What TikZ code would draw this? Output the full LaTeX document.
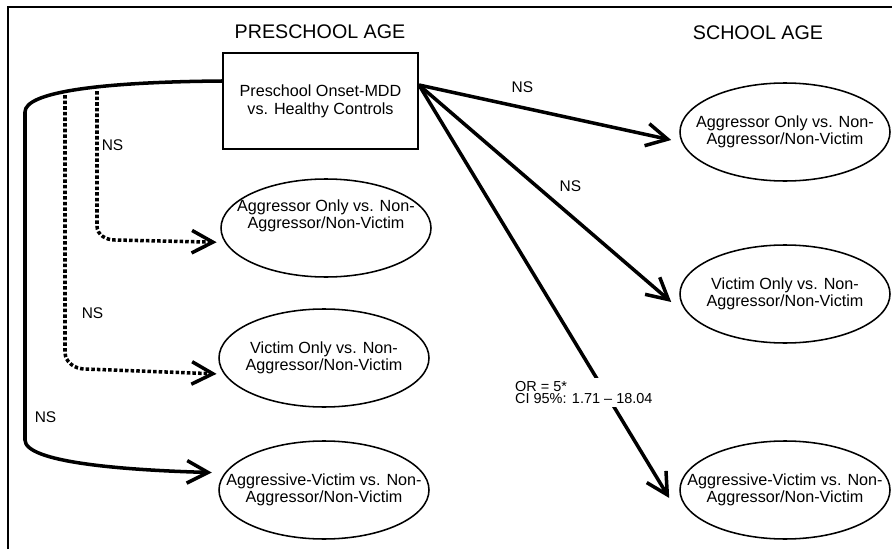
\documentclass[tikz,border=0pt]{standalone}
\usepackage{fontspec}
\setmainfont{Liberation Sans}
\usetikzlibrary{arrows.meta, positioning, shapes.geometric}

\begin{document}
\begin{tikzpicture}
		\tikzstyle{Onset} = [rectangle, minimum width=4.875cm, minimum height=2.4cm, align=center, draw=black, line width=1.4pt, font=\fontsize{11.5}{13}\selectfont]
		\tikzstyle{GroupText} = [align=center, font=\fontsize{11.5}{12}\selectfont]
		\tikzstyle{Group} = [ellipse, GroupText, minimum width=5.25cm, minimum height=2.45cm, inner xsep=-0.6cm, inner ysep=0pt, draw=black, line width=1.1pt]
		\tikzstyle{Age} = [font=\fontsize{14}{16}\selectfont]
		\tikzstyle{ns} = [font=\fontsize{11}{12}\selectfont, inner sep=1pt]
		\tikzstyle{OR} = [fill=white, align=left, inner sep=2pt, font=\fontsize{10.3}{9}\selectfont]
		\tikzstyle{arrow} = [line width=2.5pt, -{Straight Barb[length=15pt,width=16pt]}]
		\tikzstyle{nsarrow} = [arrow, dash pattern=on 2.5pt off 1.5pt]
		
		\useasboundingbox (0,0) rectangle (22.3,13.725);
		\draw [line width=2pt] (0.2,0) -- (0.2,13.55) -- (22.3,13.55);
		
		\node (pre) [Age] at (8.0,12.925) {PRESCHOOL AGE};
		\node (sch) [Age] at (18.95,12.9) {SCHOOL AGE};
		
		\node (mdd) [Onset] at (8.0125,11.2) {Preschool Onset-MDD\\vs. Healthy Controls};
		
		\node (p1) [Group, label={[GroupText, yshift=0.3cm]center:{Aggressor Only vs. Non-\\Aggressor/Non-Victim}}] at (8.15,8.025) {};
		\node (p2) [Group] at (8.1,4.775) {Victim Only vs. Non-\\Aggressor/Non-Victim};
		\node (p3) [Group] at (8.1,1.475) {Aggressive-Victim vs. Non-\\Aggressor/Non-Victim};
		
		\node (s1) [Group] at (19.625,10.425) {Aggressor Only vs. Non-\\Aggressor/Non-Victim};
		\node (s2) [Group] at (19.625,6.375) {Victim Only vs. Non-\\Aggressor/Non-Victim};
		\node (s3) [Group] at (19.625,1.475) {Aggressive-Victim vs. Non-\\Aggressor/Non-Victim};
		
		\coordinate (fan) at ([yshift=0.4cm]mdd.east);
		\coordinate (root) at ([yshift=0.5cm]mdd.west);
		\coordinate (trunk) at (0.625,10.925);
		\coordinate (b1) at (2.425,11.45);
		\coordinate (b2) at (1.625,11.35);
		
		\draw [arrow] (fan) -- node[ns, above=0.29cm, pos=0.41] {NS} ([shift={(-0.2,-0.2)}]s1.west);
		\draw [arrow] (fan) -- node[ns, above=0.52cm, pos=0.6] {NS} ([shift={(-0.2,-0.2)}]s2.west);
		\draw [arrow] (fan) -- node[OR, pos=0.745, xshift=-0.54cm] {OR = 5*\\CI 95\%: 1.71 -- 18.04} ([shift={(-0.25,-0.2)}]s3.west);
		
		\draw [arrow] (root) .. controls (2.5,11.675) and (0.625,11.425) .. (trunk)
			-- node[ns, right=0.165cm, pos=0.93] {NS} (0.625,2.725)
			.. controls (0.625,2.175) and (3.0,1.975) .. ([xshift=-0.33cm]p3.170);
		\draw [nsarrow] (b1) -- node[ns, right=0.04cm, pos=0.4] {NS} (2.425,8.075)
			to[out=-90,in=180] (2.875,7.725) -- ([xshift=-0.2cm]p1.188);
		\draw [nsarrow] (b2) -- node[ns, right=0.34cm, pos=0.85] {NS} (1.625,4.925)
			to[out=-90,in=180] (2.125,4.5) -- ([xshift=-0.18cm]p2.189);
\end{tikzpicture}
\end{document}
